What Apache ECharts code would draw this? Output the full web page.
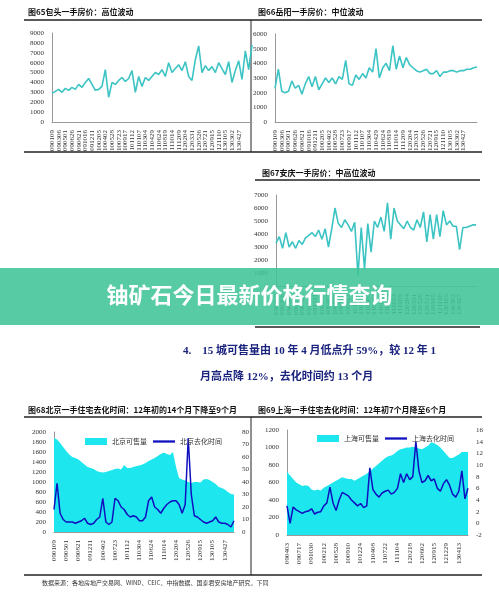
<!DOCTYPE html>
<html><head><meta charset="utf-8">
<script src="https://cdn.jsdelivr.net/npm/echarts@6/dist/echarts.min.js"></script>
<style>html,body{margin:0;padding:0;background:#fff}#c{width:499px;height:596px}</style>
</head><body><div id="c"></div>
<script>
const labelsA = ['090109','090306','090501','090626','090821','091016','091211','100205','100402','100528','100723','100917','101112','110107','110304','110429','110624','110819','111014','111209','120204','120331','120526','120721','120915','121110','130105','130302','130427'];
const baotou = [2900,3100,3300,3000,3400,3200,3500,3300,3800,3500,4000,4400,3800,3200,3300,3600,5300,2500,4000,3800,4200,4500,4100,4400,5200,3000,4600,3600,4500,4200,4600,5000,4800,5300,4600,6000,5000,5400,5800,5200,6100,4600,4200,6300,7700,5000,5700,5200,5600,5000,6000,5400,4800,6100,4000,5200,6200,4300,7200,5300,7800];
const yueyang = [2300,3600,2100,2000,2100,2800,2300,2500,1900,2600,3100,2400,3100,2200,2600,3000,2700,3000,2600,3100,2900,4200,2600,2500,3200,2900,3300,3000,3700,3400,5000,3000,3700,4000,3500,5200,3600,4500,3700,4400,3900,3700,3500,3400,3500,3600,3300,3300,3500,3100,3400,3400,3500,3500,3400,3500,3500,3600,3600,3700,3750];
const anqing = [3300,3800,2900,4100,3000,3400,2900,3500,3200,3700,3900,4100,3800,4300,3600,4400,3000,4400,6000,4800,4500,5100,4700,4200,4900,800,4500,1300,4800,2600,5000,4500,5300,4200,6400,3600,6000,5000,4700,4400,5000,4500,4300,5100,4500,5700,3400,5500,3600,5500,3800,5800,4700,5000,4600,4600,2800,4500,4500,4600,4700,4700];
const labelsB = ['090109','090501','090821','091211','100402','100723','101112','110304','110624','111014','120204','120526','120915','130105','130427'];
const bjStock = [1880,1850,1780,1700,1620,1550,1500,1480,1450,1400,1350,1300,1280,1260,1220,1200,1190,1200,1220,1240,1260,1270,1250,1340,1280,1280,1300,1320,1330,1350,1380,1420,1450,1480,1520,1560,1590,1560,1540,1600,1300,1080,1050,1030,1000,980,1000,1000,990,1050,1060,1040,1000,960,900,880,850,800,760,750];
const bjTime = [18,39,15,10,8,8,8,7,8,9,11,7,6,7,10,12,27,8,6,8,27,25,20,18,14,12,13,12,9,9,12,25,28,20,18,15,19,22,24,25,25,22,15,22,75,30,13,12,10,8,7,8,9,12,8,7,7,6,4,9];
const labelsC = ['090403','090717','091030','100212','100528','100910','101224','110408','110722','111104','120218','120602','120915','121229','130413'];
const shStock = [720,680,640,600,580,560,570,560,520,510,520,510,540,560,580,600,620,640,660,650,640,640,620,640,660,680,700,730,760,790,820,850,880,900,910,930,960,980,990,1000,1000,1010,1000,990,980,1000,1020,1060,1050,1030,1000,960,920,880,880,900,920,950,950,950];
const shTime = [3,0,2.8,2.3,2,1.7,2,2.1,2.5,1.6,1.9,2,3,3.5,6.2,3.5,2.2,4,5.3,5,4.7,4,3.5,3,3.4,2.7,3,9.5,5.8,5,4.5,5.2,5.5,5.7,5,5.3,6,8.5,7,8.5,7.5,8,14,9,7,7.3,8.2,7.3,7.6,6,5.5,6.8,7.5,6.5,5,4.5,5.5,9,4.2,6];

function cats(n, labels, step){const a=[];for(let i=0;i<n;i++)a.push(i%step===0&&labels[i/step]?labels[i/step]:'');return a;}
const F='"Liberation Serif", serif', CJK='"Noto Sans CJK SC", sans-serif';
const lab={fontFamily:F,fontSize:7,color:'#333',formatter:v=>String(v)};
const ax={axisLine:{show:true,lineStyle:{color:'#999'}},axisTick:{show:false},splitLine:{show:false},axisLabel:lab};
function xa(g,d){return Object.assign({},ax,{type:'category',gridIndex:g,data:d,boundaryGap:false,axisLabel:{fontFamily:F,fontSize:7,color:'#333',rotate:90,interval:0}});}
function ya(g,min,max,iv,pos){return Object.assign({},ax,{type:'value',gridIndex:g,min:min,max:max,interval:iv,position:pos||'left',axisLine:{show:!pos,lineStyle:{color:'#999'}}});}
const teal='#3cc3c3';
const lineIcon='path://M0,4L24,4L24,6.5L0,6.5Z';
const ch=echarts.init(document.getElementById('c'));
const title=(x,y,t)=>({type:'text',left:x,top:y,style:{text:t,font:'bold 8px '+CJK,fill:'#111'}});
const hl=(x1,x2,y,w)=>({type:'line',shape:{x1:x1,y1:y,x2:x2,y2:y},style:{stroke:'#222',lineWidth:w||1.5}});
ch.setOption({
 animation:false,
 grid:[
  {left:52,top:33,width:200,height:89},
  {left:275,top:34,width:202,height:88},
  {left:276,top:195,width:200,height:91},
  {left:54,top:432,width:180,height:100},
  {left:287,top:430,width:181,height:105}],
 xAxis:[xa(0,cats(baotou.length,labelsA,2)),xa(1,cats(yueyang.length,labelsA,2)),xa(2,cats(anqing.length,labelsA,2)),xa(3,cats(bjStock.length,labelsB,4)),xa(4,cats(shStock.length,labelsC,4))],
 yAxis:[ya(0,0,9000,1000),ya(1,0,6000,1000),ya(2,0,7000,1000),ya(3,0,2000,200),ya(3,0,80,10,'right'),ya(4,0,1200,200),ya(4,-2,16,2,'right')],
 legend:[
  {left:80,top:433,itemWidth:22,itemHeight:7,itemGap:6,textStyle:{fontFamily:CJK,fontSize:7,color:'#333'},data:[{name:'北京可售量',icon:'rect'},{name:'北京去化时间',icon:lineIcon}]},
  {left:312,top:430,itemWidth:22,itemHeight:7,itemGap:6,textStyle:{fontFamily:CJK,fontSize:7,color:'#333'},data:[{name:'上海可售量',icon:'rect'},{name:'上海去化时间',icon:lineIcon}]}],
 series:[
  {type:'line',xAxisIndex:0,yAxisIndex:0,data:baotou,symbol:'none',lineStyle:{color:teal,width:1.6}},
  {type:'line',xAxisIndex:1,yAxisIndex:1,data:yueyang,symbol:'none',lineStyle:{color:teal,width:1.6}},
  {type:'line',xAxisIndex:2,yAxisIndex:2,data:anqing,symbol:'none',lineStyle:{color:teal,width:1.6}},
  {name:'北京可售量',type:'line',xAxisIndex:3,yAxisIndex:3,data:bjStock,symbol:'none',itemStyle:{color:'#1ee6ee'},lineStyle:{width:0},areaStyle:{color:'#1ee6ee',opacity:1}},
  {name:'北京去化时间',type:'line',xAxisIndex:3,yAxisIndex:4,data:bjTime,symbol:'none',itemStyle:{color:'#1010c0'},lineStyle:{color:'#1010c0',width:1.5}},
  {name:'上海可售量',type:'line',xAxisIndex:4,yAxisIndex:5,data:shStock,symbol:'none',itemStyle:{color:'#1ee6ee'},lineStyle:{width:0},areaStyle:{color:'#1ee6ee',opacity:1}},
  {name:'上海去化时间',type:'line',xAxisIndex:4,yAxisIndex:6,data:shTime,symbol:'none',itemStyle:{color:'#1010c0'},lineStyle:{color:'#1010c0',width:1.5}}],
 graphic:[
  title(28,8,'图65包头一手房价：高位波动'),hl(24,250,20),hl(24,250,152),
  title(258,8,'图66岳阳一手房价：中位波动'),hl(250,482,20),hl(250,482,152),
  title(262,169,'图67安庆一手房价：中高位波动'),hl(255,480,180),hl(255,480,327),
  title(28,406,'图68北京一手住宅去化时间：12年初的14个月下降至9个月'),hl(24,250,417),hl(24,250,575),
  title(258,406,'图69上海一手住宅去化时间：12年初7个月降至6个月'),hl(250,482,417),hl(250,482,575),
  {type:'line',shape:{x1:251,y1:20,x2:251,y2:152},style:{stroke:'#222',lineWidth:1}},
  {type:'line',shape:{x1:251,y1:417,x2:251,y2:575},style:{stroke:'#222',lineWidth:1}},
  {type:'text',left:183,top:346,style:{text:'4.    15 城可售量由 10 年 4 月低点升 59%，较 12 年 1',font:'bold 11px '+F+','+CJK,fill:'#1a237e'}},
  {type:'text',left:200,top:372,style:{text:'月高点降 12%，去化时间约 13 个月',font:'bold 11px '+F+','+CJK,fill:'#1a237e'}},
  {type:'text',left:42,top:580,style:{text:'数据来源：各地房地产交易网、WIND、CEIC、中指数据、国泰君安房地产研究，下同',font:'6px '+CJK,fill:'#333'}},
  {type:'rect',z:100,shape:{x:0,y:268,width:499,height:57},style:{fill:'rgba(64,196,150,0.88)'}},
  {type:'text',z:101,left:'center',top:284,style:{text:'铀矿石今日最新价格行情查询',font:'bold 22px '+CJK,fill:'#fff'}}
 ]
});
</script></body></html>
